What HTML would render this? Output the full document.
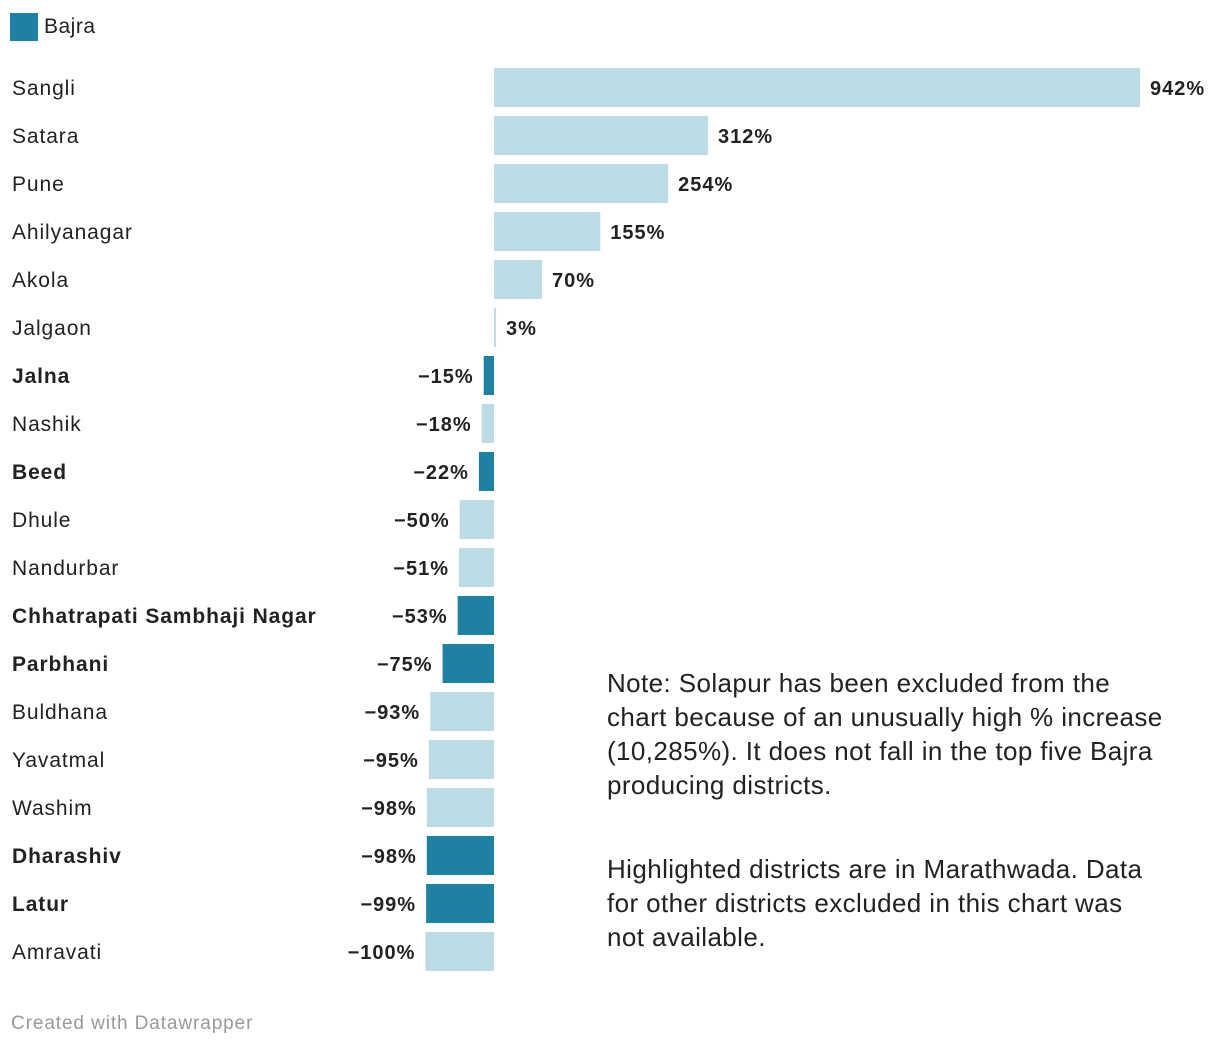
<!DOCTYPE html>
<html><head><meta charset="utf-8"><style>
body{margin:0;width:1220px;height:1050px;background:#fff;font-family:"Liberation Sans",sans-serif;position:relative;overflow:hidden}
.note{position:absolute;left:607px;width:590px;font-size:26px;line-height:34px;color:#222;letter-spacing:0.4px}
</style></head><body>
<div style="position:absolute;left:10px;top:13px;display:flex;align-items:center">
<div style="width:28px;height:28px;background:#1f81a1"></div>
<span style="margin-left:6px;font-size:21px;color:#222;letter-spacing:0.5px">Bajra</span></div>
<svg id="chart" width="1220" height="1000" style="position:absolute;left:0;top:0"></svg>
<div class="note" style="top:666px">Note: Solapur has been excluded from the<br>chart because of an unusually high % increase (10,285%). It does not fall in the top five Bajra producing districts.</div>
<div class="note" style="top:852px">Highlighted districts are in Marathwada. Data<br>for other districts excluded in this chart was<br>not available.</div>
<div style="position:absolute;left:11px;top:1013px;font-size:19px;color:#999;letter-spacing:0.9px">Created with Datawrapper</div>
<script>
const categories=["Sangli","Satara","Pune","Ahilyanagar","Akola","Jalgaon","Jalna","Nashik","Beed","Dhule","Nandurbar","Chhatrapati Sambhaji Nagar","Parbhani","Buldhana","Yavatmal","Washim","Dharashiv","Latur","Amravati"];
const values=[942,312,254,155,70,3,-15,-18,-22,-50,-51,-53,-75,-93,-95,-98,-98,-99,-100];
const highlighted=[false,false,false,false,false,false,true,false,true,false,false,true,true,false,false,false,true,true,false];
const svg=document.getElementById('chart');const NS='http://www.w3.org/2000/svg';
const x0=494,scale=646/942;
const x=v=>x0+v*scale;
const y=i=>68+i*48;
categories.forEach((c,i)=>{
 const v=values[i];
 const r=document.createElementNS(NS,'rect');
 
 
 const xa=Math.min(x(0),x(v)),w=Math.max(Math.abs(x(v)-x(0)),2);
 r.setAttribute('x',xa);r.setAttribute('y',y(i));r.setAttribute('width',w);r.setAttribute('height',39);
 r.setAttribute('fill',highlighted[i]?'#1f81a1':'#bcdbe4');svg.appendChild(r);
 const t=document.createElementNS(NS,'text');
 
 
 t.setAttribute('x',12);t.setAttribute('y',y(i)+27);t.setAttribute('font-size','21');t.setAttribute('fill','#222');
 t.setAttribute('letter-spacing','0.9');
 if(highlighted[i])t.setAttribute('font-weight','bold');
 t.textContent=c;svg.appendChild(t);
 const l=document.createElementNS(NS,'text');
 
 
 l.setAttribute('y',y(i)+27);l.setAttribute('font-size','20');l.setAttribute('font-weight','bold');l.setAttribute('fill','#222');
 l.setAttribute('letter-spacing','1');
 if(v>=0){l.setAttribute('x',xa+w+10);}else{l.setAttribute('x',xa-10);l.setAttribute('text-anchor','end');}
 l.textContent=(v<0?'\u2212'+Math.abs(v):v)+'%';svg.appendChild(l);
});
</script>
</body></html>
